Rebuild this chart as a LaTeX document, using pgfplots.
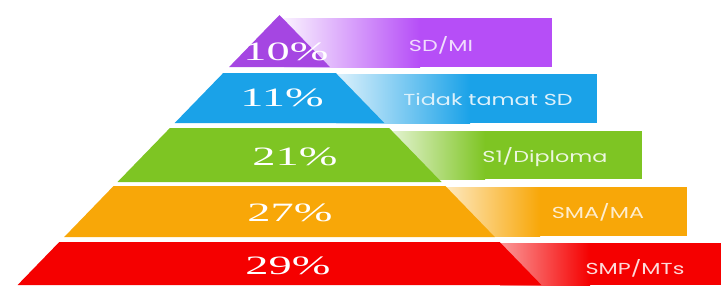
\documentclass[border=0pt]{standalone}
\usepackage{fontspec}
\setmainfont{Liberation Serif}
\newfontfamily\gothic{Poppins}
\usepackage{pgfplots}
\pgfplotsset{compat=1.18}
\definecolor{cpur}{HTML}{A546E2}
\definecolor{cpurb}{HTML}{B64EF7}
\definecolor{cblu}{HTML}{1AA2E8}
\definecolor{cgre}{HTML}{7EC523}
\definecolor{cora}{HTML}{F8A708}
\definecolor{cred}{HTML}{F50000}
\begin{document}
\begin{tikzpicture}
\begin{axis}[x=1bp,y=1bp,y dir=reverse,xmin=0,xmax=721,ymin=0,ymax=285,
  hide axis,scale only axis,clip=true]
\addplot[draw=none] coordinates {(0,0)(721,285)};
% ---- bars (gradient part + solid part)
\addplot[draw=none,left color=white!92!cpurb,right color=cpurb] coordinates {(284,18)(420,18)(420,67)(284,67)} -- cycle;
\addplot[draw=none,fill=cpurb] coordinates {(419.5,18)(552,18)(552,67)(419.5,67)} -- cycle;
\addplot[draw=none,left color=white!85!cblu,right color=cblu] coordinates {(336,74)(470,74)(470,123)(336,123)} -- cycle;
\addplot[draw=none,fill=cblu] coordinates {(469.5,74)(597,74)(597,123)(469.5,123)} -- cycle;
\addplot[draw=none,left color=white!80!cgre,right color=cgre] coordinates {(390,131)(485,131)(485,179)(390,179)} -- cycle;
\addplot[draw=none,fill=cgre] coordinates {(484.5,131)(642,131)(642,179)(484.5,179)} -- cycle;
\addplot[draw=none,left color=white!75!cora,right color=cora] coordinates {(445,187)(540,187)(540,236)(445,236)} -- cycle;
\addplot[draw=none,fill=cora] coordinates {(539.5,187)(687,187)(687,236)(539.5,236)} -- cycle;
\addplot[draw=none,left color=white!60!cred,right color=cred] coordinates {(500,243)(590,243)(590,285)(500,285)} -- cycle;
\addplot[draw=none,fill=cred] coordinates {(589.5,243)(721,243)(721,285)(589.5,285)} -- cycle;
% ---- pyramid tiers
\addplot[draw=none,fill=cpur] coordinates {(279.5,15)(329.9,67)(229.1,67)} -- cycle;
\addplot[draw=none,fill=cblu] coordinates {(223.2,73)(335.8,73)(384.3,123)(174.7,123)} -- cycle;
\addplot[draw=none,fill=cgre] coordinates {(169.9,128)(389.1,128)(441.5,182)(117.5,182)} -- cycle;
\addplot[draw=none,fill=cora] coordinates {(113.6,186)(445.4,186)(494.8,237)(64.2,237)} -- cycle;
\addplot[draw=none,fill=cred] coordinates {(59.3,242)(499.7,242)(541.4,285)(17.6,285)} -- cycle;
% ---- percent labels
\begin{scope}[every node/.style={text=white,font=\fontsize{26.6}{30}\selectfont,xscale=1.75,inner sep=0pt}]
\node at (axis cs:286,52) {10\%};
\node at (axis cs:282,98) {11\%};
\node at (axis cs:295,157) {21\%};
\node at (axis cs:290,213) {27\%};
\node at (axis cs:288,266) {29\%};
\end{scope}
% ---- category labels
\begin{scope}[every node/.style={font=\gothic\fontsize{16}{19}\selectfont,xscale=1.4,inner sep=0pt}]
\node[text=white!80!cpurb] at (axis cs:441,45) {SD/MI};
\node[text=white!85!cblu] at (axis cs:488,100) {Tidak tamat SD};
\node[text=white!85!cgre] at (axis cs:545,157) {S1/Diploma};
\node[text=white!80!cora] at (axis cs:598,212) {SMA/MA};
\node[text=white!85!cred] at (axis cs:635,268) {SMP/MTs};
\end{scope}
\end{axis}
\end{tikzpicture}
\end{document}
